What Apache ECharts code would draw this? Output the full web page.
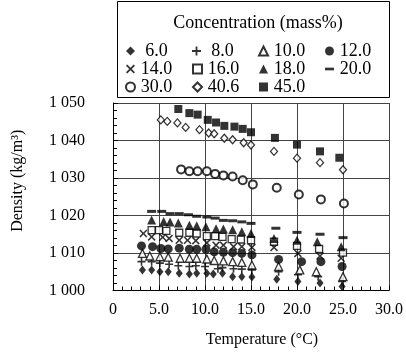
<!DOCTYPE html>
<html>
<head>
<meta charset="utf-8">
<script src="https://cdn.jsdelivr.net/npm/echarts@6/dist/echarts.min.js"></script>
<style>
  html, body { margin: 0; padding: 0; background: #fff; }
  #chart { width: 406px; height: 356px; }
</style>
</head>
<body>
<div id="chart"></div>
<script>
// temperatures (°C) and densities (kg/m3) per concentration
const t6 = [3.2, 4.2, 5.1, 6.0, 7.2, 8.3, 9.1, 10.2, 10.9, 11.9, 13.0, 14.0, 15.1, 17.8, 20.1, 22.5, 24.9];
const d6 = [1005.5, 1005.5, 1005.0, 1005.0, 1004.6, 1004.4, 1004.6, 1004.6, 1004.4, 1004.6, 1003.7, 1003.7, 1003.6, 1003.0, 1002.4, 1002.0, 1001.1];
const t8 = [3.1, 4.2, 5.1, 6.1, 7.1, 8.3, 9.0, 10.0, 11.4, 11.9, 13.1, 14.0, 15.1, 18.0, 20.1, 22.3, 24.9];
const d8 = [1007.7, 1007.7, 1007.3, 1007.0, 1006.6, 1006.4, 1006.6, 1006.4, 1005.8, 1006.1, 1005.8, 1005.7, 1005.5, 1005.0, 1004.2, 1003.7, 1002.4];
const t10 = [3.2, 4.0, 5.1, 6.0, 7.3, 8.3, 9.1, 10.2, 11.0, 12.0, 13.0, 14.0, 15.1, 18.0, 20.3, 22.1, 25.0];
const d10 = [1009.9, 1009.2, 1009.0, 1008.9, 1008.6, 1008.6, 1008.6, 1008.4, 1008.0, 1007.9, 1007.7, 1007.5, 1006.8, 1006.4, 1005.5, 1005.0, 1003.7];
const t12 = [3.1, 4.3, 5.2, 6.0, 7.2, 8.3, 9.1, 10.1, 11.0, 12.0, 13.0, 14.0, 15.1, 18.0, 20.5, 22.6, 24.9];
const d12 = [1011.9, 1011.7, 1011.2, 1011.1, 1011.3, 1011.0, 1011.0, 1011.0, 1010.3, 1010.2, 1010.1, 1009.9, 1009.5, 1008.3, 1007.7, 1007.7, 1006.4];
const t14 = [3.3, 4.2, 5.4, 6.1, 7.2, 8.1, 9.0, 10.2, 11.2, 12.0, 13.1, 14.0, 15.1, 17.5, 20.1, 22.5, 24.8];
const d14 = [1015.2, 1014.3, 1014.2, 1013.9, 1013.4, 1013.4, 1013.3, 1012.7, 1012.1, 1012.1, 1011.7, 1011.7, 1011.5, 1011.5, 1009.9, 1009.2, 1008.6];
const t16 = [4.2, 5.0, 5.8, 7.2, 8.3, 9.1, 10.2, 11.1, 11.9, 12.9, 13.9, 15.0, 17.5, 20.0, 22.4, 25.0];
const d16 = [1016.1, 1016.1, 1015.9, 1015.4, 1015.4, 1015.2, 1014.5, 1014.5, 1014.3, 1013.7, 1013.6, 1013.4, 1013.0, 1011.9, 1011.1, 1010.1];
const t18 = [4.2, 5.5, 6.2, 7.1, 8.3, 9.1, 10.1, 11.2, 12.0, 13.0, 14.0, 15.0, 17.5, 20.0, 22.2, 24.8];
const d18 = [1018.8, 1018.4, 1018.3, 1018.0, 1017.4, 1017.3, 1017.0, 1016.5, 1016.4, 1016.2, 1015.7, 1015.2, 1013.9, 1013.4, 1013.0, 1011.7];
const t20 = [4.2, 5.3, 6.2, 7.2, 8.2, 9.1, 10.2, 11.1, 12.0, 13.0, 14.0, 15.0, 17.7, 20.0, 22.5, 25.0];
const d20 = [1021.1, 1021.1, 1020.5, 1020.5, 1020.2, 1019.8, 1019.6, 1019.3, 1018.7, 1018.6, 1018.3, 1017.9, 1016.6, 1015.5, 1015.0, 1014.1];
const t30 = [7.4, 8.3, 9.2, 10.2, 11.1, 12.0, 13.0, 14.1, 15.2, 17.8, 20.2, 22.6, 25.1];
const d30 = [1032.3, 1031.8, 1031.8, 1031.8, 1031.1, 1030.7, 1030.4, 1029.4, 1028.3, 1027.4, 1025.6, 1024.3, 1023.2];
const t406 = [5.2, 5.9, 7.0, 7.9, 9.4, 10.4, 11.0, 12.1, 13.0, 14.2, 15.0, 17.5, 20.0, 22.5, 25.0];
const d406 = [1045.5, 1045.1, 1044.7, 1043.5, 1042.9, 1042.0, 1041.8, 1040.6, 1040.2, 1039.4, 1038.8, 1037.1, 1035.3, 1034.1, 1032.2];
const t45 = [7.1, 8.3, 9.2, 10.3, 11.2, 12.1, 13.2, 14.1, 15.0, 17.6, 20.0, 22.5, 24.6];
const d45 = [1048.4, 1047.3, 1046.9, 1045.5, 1044.8, 1043.9, 1043.7, 1043.1, 1042.2, 1040.7, 1038.9, 1037.1, 1035.4];

const xTicks = [0, 5, 10, 15, 20, 25, 30];
const yTicks = [1000, 1010, 1020, 1030, 1040, 1050];

const FONT = "'Liberation Serif', 'Times New Roman', serif";
const plus = 'path://M4,0H6V4H10V6H6V10H4V6H0V4H4Z';
const cross = 'path://M0,1.4L1.4,0L5,3.6L8.6,0L10,1.4L6.4,5L10,8.6L8.6,10L5,6.4L1.4,10L0,8.6L3.6,5Z';
const hollow = { color: '#fff', borderColor: '#000', borderWidth: 1.3 };
const solid = { color: '#000' };

function mk(name, t, d, symbol, size, style) {
  return {
    name: name,
    type: 'scatter',
    data: t.map((v, i) => [v, d[i]]),
    symbol: symbol,
    symbolSize: size,
    itemStyle: style
  };
}

const series = [
  mk('6.0', t6, d6, 'diamond', [7, 9], solid),
  mk('8.0', t8, d8, plus, 8, solid),
  mk('10.0', t10, d10, 'triangle', 8, hollow),
  mk('12.0', t12, d12, 'circle', 9, solid),
  mk('14.0', t14, d14, cross, 8, solid),
  mk('16.0', t16, d16, 'rect', 7, hollow),
  mk('18.0', t18, d18, 'triangle', 9, solid),
  mk('20.0', t20, d20, 'rect', [9, 3], solid),
  mk('30.0', t30, d30, 'circle', 8, { color: '#fff', borderColor: '#000', borderWidth: 2 }),
  mk('40.6', t406, d406, 'diamond', [7, 8], hollow),
  mk('45.0', t45, d45, 'rect', 8, solid)
];

// four entries per legend row, '' starts a new row
const legendData = [];
series.forEach((s, i) => {
  if (i > 0 && i % 4 === 0) legendData.push('');
  legendData.push(s.name === '20.0'
    ? { name: s.name, icon: 'path://M0,0H10V3H0Z' }
    : { name: s.name });
});

const chart = echarts.init(document.getElementById('chart'));
chart.setOption({
  animation: false,
  textStyle: { fontFamily: FONT },
  title: {
    text: 'Concentration (mass%)',
    left: 253,
    top: 9,
    textAlign: 'center',
    textStyle: { fontFamily: FONT, fontSize: 18, fontWeight: 'normal', color: '#000' }
  },
  graphic: [{
    type: 'rect',
    shape: { x: 117.5, y: 1.5, width: 272, height: 96 },
    style: { fill: null, stroke: '#000', lineWidth: 1 },
    silent: true
  }],
  legend: {
    data: legendData,
    left: 125,
    top: 42,
    width: 300,
    padding: 0,
    itemGap: 0,
    itemWidth: 9,
    itemHeight: 9,
    formatter: name => '{v|' + name + '}{g| }',
    textStyle: {
      fontFamily: FONT,
      fontSize: 18,
      color: '#000',
      rich: {
        v: { width: 33, align: 'right', fontSize: 18, lineHeight: 18, fontFamily: FONT },
        g: { width: 19, fontSize: 18, lineHeight: 18, fontFamily: FONT }
      }
    }
  },
  grid: { left: 113, right: 16.5, top: 103, bottom: 65.5 },
  xAxis: {
    type: 'value',
    min: xTicks[0],
    max: xTicks[xTicks.length - 1],
    interval: 5,
    name: 'Temperature (°C)',
    nameLocation: 'middle',
    nameGap: 41,
    nameTextStyle: { fontFamily: FONT, fontSize: 16, color: '#000', padding: [0, 0, 0, 22] },
    axisLine: { lineStyle: { color: '#000', width: 1 } },
    axisTick: { inside: true, length: 5, lineStyle: { color: '#000' } },
    minorTick: { show: true, splitNumber: 5, length: 4, lineStyle: { color: '#000' } },
    axisLabel: {
      margin: 11,
      fontFamily: FONT,
      fontSize: 16,
      color: '#000',
      formatter: v => v === 0 ? '0' : v.toFixed(1)
    },
    splitLine: { show: true, lineStyle: { color: '#444', width: 1 } }
  },
  yAxis: {
    type: 'value',
    min: yTicks[0],
    max: yTicks[yTicks.length - 1],
    interval: 10,
    name: 'Density (kg/m³)',
    nameLocation: 'middle',
    nameGap: 87,
    nameTextStyle: { fontFamily: FONT, fontSize: 16, color: '#000', padding: [0, 0, 0, 32] },
    axisLine: { show: true, lineStyle: { color: '#000', width: 1 } },
    axisTick: { inside: true, length: 5, lineStyle: { color: '#000' } },
    minorTick: { show: true, splitNumber: 5, length: 4, lineStyle: { color: '#000' } },
    axisLabel: {
      margin: 28,
      fontFamily: FONT,
      fontSize: 16,
      color: '#000',
      formatter: v => { const s = String(v); return s[0] + ' ' + s.slice(1); }
    },
    splitLine: { show: true, lineStyle: { color: '#444', width: 1 } }
  },
  series: series
});
</script>
</body>
</html>
